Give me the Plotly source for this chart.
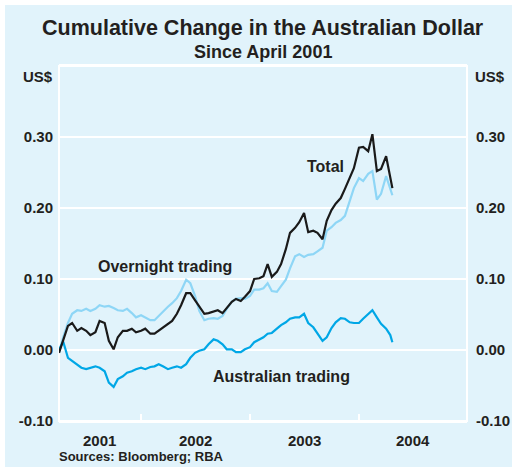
import pandas as pd
import plotly.graph_objects as go

# ---- data (US$, cumulative change since April 2001) ----
dates = list(pd.date_range("2001-04-01", "2004-04-15", freq="SMS").strftime("%Y-%m-%d")) + ["2004-04-22"]

total = [-0.004, 0.013, 0.034, 0.038, 0.027, 0.031, 0.027, 0.021, 0.025, 0.041,
         0.038, 0.013, 0.001, 0.018, 0.027, 0.027, 0.030, 0.025, 0.027, 0.030,
         0.023, 0.023, 0.027, 0.032, 0.037, 0.041, 0.051, 0.063, 0.080, 0.080,
         0.070, 0.062, 0.051, 0.052, 0.054, 0.056, 0.052, 0.059, 0.068, 0.072,
         0.069, 0.075, 0.083, 0.100, 0.101, 0.104, 0.121, 0.103, 0.110, 0.121,
         0.142, 0.165, 0.172, 0.180, 0.193, 0.166, 0.168, 0.165, 0.156, 0.182,
         0.197, 0.206, 0.214, 0.227, 0.242, 0.256, 0.285, 0.286, 0.280, 0.304,
         0.252, 0.255, 0.273, 0.242, 0.228]

overnight = [-0.004, 0.018, 0.038, 0.051, 0.056, 0.055, 0.058, 0.055, 0.058, 0.063,
             0.061, 0.062, 0.059, 0.056, 0.055, 0.058, 0.052, 0.046, 0.049, 0.046,
             0.042, 0.042, 0.048, 0.055, 0.061, 0.066, 0.073, 0.083, 0.099, 0.094,
             0.076, 0.055, 0.042, 0.044, 0.045, 0.044, 0.048, 0.058, 0.068, 0.072,
             0.073, 0.072, 0.076, 0.085, 0.085, 0.087, 0.094, 0.083, 0.082, 0.090,
             0.099, 0.115, 0.132, 0.135, 0.131, 0.134, 0.135, 0.139, 0.144, 0.168,
             0.173, 0.179, 0.183, 0.189, 0.210, 0.228, 0.242, 0.238, 0.248, 0.252,
             0.212, 0.220, 0.245, 0.228, 0.218]

australian = [0.000, 0.012, -0.011, -0.015, -0.021, -0.025, -0.027, -0.025, -0.023, -0.025,
              -0.030, -0.046, -0.052, -0.041, -0.037, -0.032, -0.030, -0.027, -0.025, -0.027,
              -0.024, -0.023, -0.020, -0.023, -0.027, -0.025, -0.023, -0.025, -0.020, -0.011,
              -0.004, -0.001, 0.001, 0.008, 0.015, 0.013, 0.008, 0.001, 0.001, -0.003,
              -0.003, 0.001, 0.004, 0.011, 0.015, 0.018, 0.023, 0.024, 0.030, 0.035,
              0.039, 0.044, 0.046, 0.046, 0.051, 0.038, 0.032, 0.023, 0.013, 0.018,
              0.031, 0.039, 0.045, 0.044, 0.039, 0.038, 0.038, 0.044, 0.051, 0.056,
              0.046, 0.037, 0.030, 0.021, 0.011]

year_labels = ["2001", "2002", "2003", "2004"]
year_bounds = ["2001-04-01", "2002-01-01", "2003-01-01", "2004-01-01", "2004-12-28"]
y_ticks = [-0.10, 0.00, 0.10, 0.20, 0.30]
y_ticktext = ["-0.10", "0.00", "0.10", "0.20", "0.30"]

# ---- styling ----
BG = "#E1F3FB"
TXT = "#231F20"
FONT = "Liberation Sans, Arial, Helvetica, sans-serif"
C_OVER = "#8ED6F6"
C_AUS = "#00A7E6"
C_TOT = "#1A1A1A"

fig = go.Figure()
fig.add_trace(go.Scatter(x=dates, y=overnight, mode="lines", line=dict(color=C_OVER, width=2.2), hoverinfo="skip"))
fig.add_trace(go.Scatter(x=dates, y=australian, mode="lines", line=dict(color=C_AUS, width=2.2), hoverinfo="skip"))
fig.add_trace(go.Scatter(x=dates, y=total, mode="lines", line=dict(color=C_TOT, width=2.2), hoverinfo="skip"))
fig.add_trace(go.Scatter(x=[], y=[], yaxis="y2", showlegend=False))

yax = dict(range=[-0.10, 0.40], tickvals=y_ticks, ticktext=["<b>%s</b>" % t for t in y_ticktext],
           showgrid=True, gridcolor="white", gridwidth=2,
           zeroline=True, zerolinecolor="white", zerolinewidth=2,
           showline=False, ticks="", ticklabelstandoff=5, automargin=False,
           tickfont=dict(family=FONT, size=15, color=TXT), fixedrange=True)

# figure sits 5px from the top-left of the window (white strip as in the original)
fig.update_layout(
    width=507, height=462,
    margin=dict(l=54, r=45, t=61, b=46, autoexpand=False),
    paper_bgcolor=BG, plot_bgcolor=BG,
    showlegend=False,
    font=dict(family=FONT, color=TXT),
    xaxis=dict(type="date", range=[year_bounds[0], year_bounds[-1]], automargin=False,
               tickvals=year_bounds[1:4], ticks="inside", ticklen=7, tickwidth=2,
               tickcolor="white", showticklabels=False, showgrid=False,
               showline=True, linecolor="white", linewidth=2, mirror=True, zeroline=False),
    yaxis=yax,
    yaxis2=dict(yax, overlaying="y", side="right", showgrid=False, zeroline=False,
                ticklabelstandoff=8),
)

fig.add_shape(type="rect", xref="paper", yref="paper", x0=0, x1=1, y0=0, y1=1,
              line=dict(color="white", width=2), layer="below")

# year labels centred in each visible year span
for i, lab in enumerate(year_labels):
    a = pd.Timestamp(year_bounds[i]); b = pd.Timestamp(year_bounds[i + 1])
    mid = a + (b - a) / 2
    fig.add_annotation(x=mid.strftime("%Y-%m-%d"), y=-0.056, xref="x", yref="paper",
                       text="<b>%s</b>" % lab, showarrow=False, yanchor="middle",
                       font=dict(family=FONT, size=15, color=TXT))

def ann(text, x, y, size, xref="paper", yref="paper", xanchor="center"):
    fig.add_annotation(x=x, y=y, xref=xref, yref=yref, text="<b>%s</b>" % text,
                       showarrow=False, xanchor=xanchor, yanchor="middle",
                       font=dict(family=FONT, size=size, color=TXT))

ann("Cumulative Change in the Australian Dollar", 0.499, 1.107, 21.5)
ann("Since April 2001", 0.499, 1.040, 18)
ann("US$", -0.051, 0.970, 15)
ann("US$", 1.056, 0.970, 15)
ann("Sources: Bloomberg; RBA", -0.005, -0.101, 13, xanchor="left")
ann("Total", "2003-09-12", 0.259, 16, xref="x", yref="y")
ann("Overnight trading", "2002-03-22", 0.118, 16, xref="x", yref="y")
ann("Australian trading", "2003-04-15", -0.038, 16, xref="x", yref="y")

fig.write_html(
    "out.html",
    post_script="document.body.style.margin='5px 0 0 5px';document.body.style.overflow='hidden';",
)
